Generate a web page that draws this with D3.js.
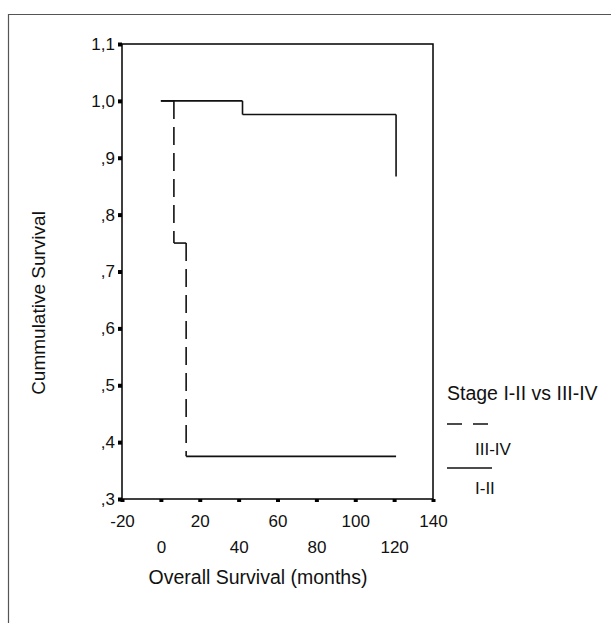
<!DOCTYPE html>
<html>
<head>
<meta charset="utf-8">
<script src="https://cdn.jsdelivr.net/npm/d3@7"></script>
<style>
  body { margin: 0; background: #fff; }
  svg { display: block; }
  text { font-family: Arial, "Liberation Sans", sans-serif; fill: #111; }
</style>
</head>
<body>
<div class="km"></div>
<script>
// survival curves, step-after (months, cumulative survival)
const stageI_II_t = [0, 42, 121];
const stageI_II_s = [1.0, 0.976, 0.867];
const stageIII_IV_t = [0, 6.7, 13, 121];
const stageIII_IV_s = [1.0, 0.75, 0.375, 0.375];

const xTicks = [-20, 0, 20, 40, 60, 80, 100, 120, 140];
const yTicks = [1.1, 1.0, 0.9, 0.8, 0.7, 0.6, 0.5, 0.4, 0.3];
const yTickLabels = ["1,1", "1,0", ",9", ",8", ",7", ",6", ",5", ",4", ",3"];
const legendTitle = "Stage I-II vs III-IV";
const legendNames = ["III-IV", "I-II"];

const W = 611, H = 623;
const svg = d3.select(".km").append("svg").attr("width", W).attr("height", H);

// outer frame (top + left edges visible)
svg.append("path")
  .attr("d", "M8.5," + H + "V14.5H" + W)
  .attr("fill", "none").attr("stroke", "#555").attr("stroke-width", 1.2);

let x = d3.scaleLinear().domain([-20, 140]).range([122, 433]);
let y = d3.scaleLinear().domain([0.3, 1.1]).range([499, 44]);

// plot box
svg.append("rect")
  .attr("x", x(-20)).attr("y", y(1.1))
  .attr("width", x(140) - x(-20)).attr("height", y(0.3) - y(1.1))
  .attr("fill", "none").attr("stroke", "#000").attr("stroke-width", 1.5);

// AXIS
const yAxis = d3.axisLeft(y).tickValues(yTicks)
  .tickFormat((d, i) => yTickLabels[i]).tickSize(4).tickPadding(3);
const yAxisGroup = svg.append("g")
  .attr("transform", "translate(" + x(-20) + ",0)")
  .call(yAxis);
yAxisGroup.select(".domain").remove();
yAxisGroup.selectAll(".tick line").attr("stroke", "#000").attr("stroke-width", 4);
yAxisGroup.selectAll(".tick text")
  .attr("font-size", 17).attr("font-family", "Arial, 'Liberation Sans', sans-serif")
  .attr("fill", "#111");

const xAxis = d3.axisBottom(x).tickValues(xTicks).tickSize(3).tickPadding(0)
  .tickFormat(d => String(d));
const xAxisGroup = svg.append("g")
  .attr("transform", "translate(0," + y(0.3) + ")")
  .call(xAxis);
xAxisGroup.select(".domain").remove();
xAxisGroup.selectAll(".tick line").attr("stroke", "#000").attr("stroke-width", 4);
xAxisGroup.selectAll(".tick text")
  .attr("font-size", 17).attr("font-family", "Arial, 'Liberation Sans', sans-serif")
  .attr("fill", "#111")
  .attr("dy", null)
  .attr("y", (d, i) => (i % 2 === 0 ? 28 : 54));

// axis titles
svg.append("text")
  .attr("x", 258).attr("y", 584)
  .attr("text-anchor", "middle").attr("font-size", 19.5)
  .text("Overall Survival (months)");

svg.append("text")
  .attr("transform", "translate(45,303) rotate(-90)")
  .attr("text-anchor", "middle").attr("font-size", 19)
  .text("Cummulative Survival");

// step segments: horizontals solid, verticals styled by group
function segments(t, s) {
  const segs = [];
  for (let i = 0; i < t.length - 1; i++) {
    segs.push({ x1: t[i], y1: s[i], x2: t[i + 1], y2: s[i], v: false });
    if (s[i + 1] !== s[i]) {
      segs.push({ x1: t[i + 1], y1: s[i], x2: t[i + 1], y2: s[i + 1], v: true });
    }
  }
  return segs;
}

function drawCurve(t, s, dashed) {
  svg.append("g").selectAll("line")
    .data(segments(t, s))
    .enter().append("line")
    .attr("x1", d => x(d.x1)).attr("y1", d => y(d.y1))
    .attr("x2", d => x(d.x2)).attr("y2", d => y(d.y2))
    .attr("stroke", "#111").attr("stroke-width", 1.6)
    .attr("stroke-dasharray", d => (dashed && d.v ? "18,8" : null));
}

drawCurve(stageI_II_t, stageI_II_s, false);
drawCurve(stageIII_IV_t, stageIII_IV_s, true);

// legend
const lg = svg.append("g").attr("transform", "translate(447,0)");
lg.append("text").attr("x", 0).attr("y", 400).attr("font-size", 19.5).text(legendTitle);
lg.append("line").attr("x1", 0).attr("x2", 45).attr("y1", 424).attr("y2", 424)
  .attr("stroke", "#111").attr("stroke-width", 1.5).attr("stroke-dasharray", "15,11");
lg.append("text").attr("x", 28).attr("y", 455).attr("font-size", 17).text(legendNames[0]);
lg.append("line").attr("x1", 0).attr("x2", 45).attr("y1", 468).attr("y2", 468)
  .attr("stroke", "#111").attr("stroke-width", 1.5);
lg.append("text").attr("x", 28).attr("y", 494).attr("font-size", 17).text(legendNames[1]);
</script>
</body>
</html>
